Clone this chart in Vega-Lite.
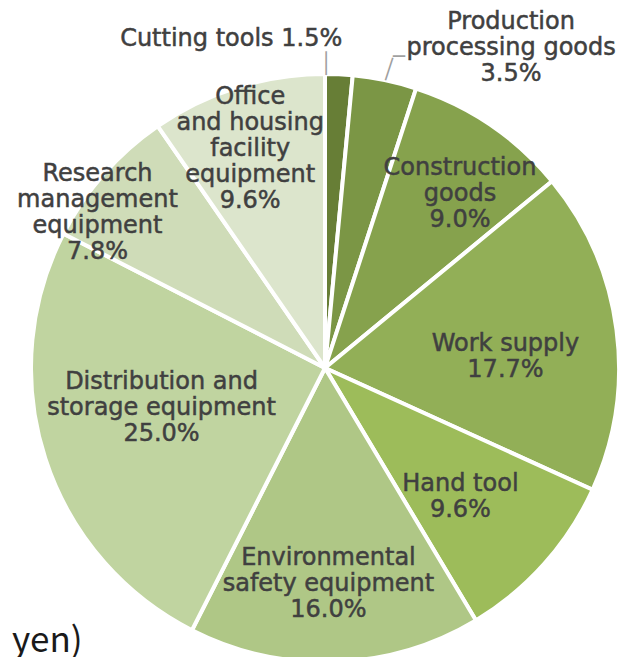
{
  "$schema": "https://vega.github.io/schema/vega-lite/v6.json",
  "width": 650,
  "height": 736,
  "autosize": "none",
  "padding": 0,
  "background": "white",
  "config": {"view": {"stroke": null}, "text": {"font": "DejaVu Sans", "fontSize": 24, "lineHeight": 26, "color": "#404040", "stroke": "#404040", "strokeWidth": 0.5}},
  "title": {"text": "yen)", "orient": "bottom", "anchor": "start", "frame": "group", "offset": -84, "baseline": "alphabetic", "font": "Noto Sans CJK JP", "fontSize": 35, "fontWeight": "normal", "color": "#1a1a1a", "dx": 12},
  "data": {"values": [
    {"idx": 1, "cat": "Cutting tools", "value": 1.5, "label": "Cutting tools 1.5%"},
    {"idx": 2, "cat": "Production processing goods", "value": 3.5, "label": "Production\nprocessing goods\n3.5%"},
    {"idx": 3, "cat": "Construction goods", "value": 9.0, "label": "Construction\ngoods\n9.0%"},
    {"idx": 4, "cat": "Work supply", "value": 17.7, "label": "Work supply\n17.7%"},
    {"idx": 5, "cat": "Hand tool", "value": 9.6, "label": "Hand tool\n9.6%"},
    {"idx": 6, "cat": "Environmental safety equipment", "value": 16.0, "label": "Environmental\nsafety equipment\n16.0%"},
    {"idx": 7, "cat": "Distribution and storage equipment", "value": 25.0, "label": "Distribution and\nstorage equipment\n25.0%"},
    {"idx": 8, "cat": "Research management equipment", "value": 7.8, "label": "Research\nmanagement\nequipment\n7.8%"},
    {"idx": 9, "cat": "Office and housing facility equipment", "value": 9.6, "label": "Office\nand housing\nfacility\nequipment\n9.6%"}
  ]},
  "encoding": {
    "theta": {"field": "value", "type": "quantitative", "stack": true},
    "order": {"field": "idx", "type": "quantitative"}
  },
  "layer": [
    {
      "mark": {"type": "arc", "radius": 294, "stroke": "white", "strokeWidth": 4},
      "encoding": {
        "color": {"field": "cat", "type": "nominal", "legend": null,
          "scale": {
            "domain": ["Cutting tools", "Production processing goods", "Construction goods", "Work supply", "Hand tool", "Environmental safety equipment", "Distribution and storage equipment", "Research management equipment", "Office and housing facility equipment"],
            "range": ["#677e36", "#7b9645", "#86a24d", "#92af57", "#9dbc5a", "#afc786", "#c0d4a0", "#cfdcb8", "#dce5cc"]
          }
        }
      }
    },
    {
      "mark": {"type": "text", "radius": 322.4, "align": "right", "baseline": "alphabetic", "dx": 2},
      "encoding": {"detail": {"field": "cat"}, "text": {"field": "label", "type": "nominal", "condition": {"test": "datum.cat !== 'Cutting tools'", "value": ""}}}
    },
    {
      "mark": {"type": "text", "radius": 320, "align": "center", "baseline": "middle", "lineBreak": "\n", "dx": 121, "dy": -33},
      "encoding": {"detail": {"field": "cat"}, "text": {"field": "label", "type": "nominal", "condition": {"test": "datum.cat !== 'Production processing goods'", "value": ""}}}
    },
    {
      "mark": {"type": "text", "radius": 220, "align": "center", "baseline": "middle", "lineBreak": "\n", "dx": 11, "dy": -18},
      "encoding": {"detail": {"field": "cat"}, "text": {"field": "label", "type": "nominal", "condition": {"test": "datum.cat !== 'Construction goods'", "value": ""}}}
    },
    {
      "mark": {"type": "text", "radius": 180, "align": "center", "baseline": "middle", "lineBreak": "\n", "dx": 2, "dy": -1},
      "encoding": {"detail": {"field": "cat"}, "text": {"field": "label", "type": "nominal", "condition": {"test": "datum.cat !== 'Work supply'", "value": ""}}}
    },
    {
      "mark": {"type": "text", "radius": 187, "align": "center", "baseline": "middle", "lineBreak": "\n", "dx": -4, "dy": -9},
      "encoding": {"detail": {"field": "cat"}, "text": {"field": "label", "type": "nominal", "condition": {"test": "datum.cat !== 'Hand tool'", "value": ""}}}
    },
    {
      "mark": {"type": "text", "radius": 215, "align": "center", "baseline": "middle", "lineBreak": "\n", "dx": -4, "dy": -25},
      "encoding": {"detail": {"field": "cat"}, "text": {"field": "label", "type": "nominal", "condition": {"test": "datum.cat !== 'Environmental safety equipment'", "value": ""}}}
    },
    {
      "mark": {"type": "text", "radius": 175, "align": "center", "baseline": "middle", "lineBreak": "\n", "dx": 3, "dy": -40},
      "encoding": {"detail": {"field": "cat"}, "text": {"field": "label", "type": "nominal", "condition": {"test": "datum.cat !== 'Distribution and storage equipment'", "value": ""}}}
    },
    {
      "mark": {"type": "text", "radius": 276, "align": "center", "baseline": "middle", "lineBreak": "\n", "dx": -20, "dy": -12},
      "encoding": {"detail": {"field": "cat"}, "text": {"field": "label", "type": "nominal", "condition": {"test": "datum.cat !== 'Research management equipment'", "value": ""}}}
    },
    {
      "mark": {"type": "text", "radius": 231, "align": "center", "baseline": "middle", "lineBreak": "\n", "dx": -6, "dy": -50},
      "encoding": {"detail": {"field": "cat"}, "text": {"field": "label", "type": "nominal", "condition": {"test": "datum.cat !== 'Office and housing facility equipment'", "value": ""}}}
    },
    {
      "mark": {"type": "text", "radius": 304.5, "align": "center", "baseline": "middle", "dx": -13.4, "fontSize": 20, "color": "#a0a0a0", "strokeWidth": 0},
      "encoding": {"detail": {"field": "cat"}, "text": {"condition": {"test": "datum.cat === 'Cutting tools'", "value": "│"}, "value": ""}}
    },
    {
      "mark": {"type": "text", "radius": 305, "align": "center", "baseline": "middle", "dx": 2, "angle": 18, "fontSize": 20, "color": "#a0a0a0", "strokeWidth": 0},
      "encoding": {"detail": {"field": "cat"}, "text": {"condition": {"test": "datum.cat === 'Production processing goods'", "value": "│"}, "value": ""}}
    },
    {
      "mark": {"type": "text", "radius": 317.6, "align": "center", "baseline": "middle", "dx": 9.5, "fontSize": 20, "color": "#a0a0a0", "strokeWidth": 0},
      "encoding": {"detail": {"field": "cat"}, "text": {"condition": {"test": "datum.cat === 'Production processing goods'", "value": "─"}, "value": ""}}
    }
  ]
}
